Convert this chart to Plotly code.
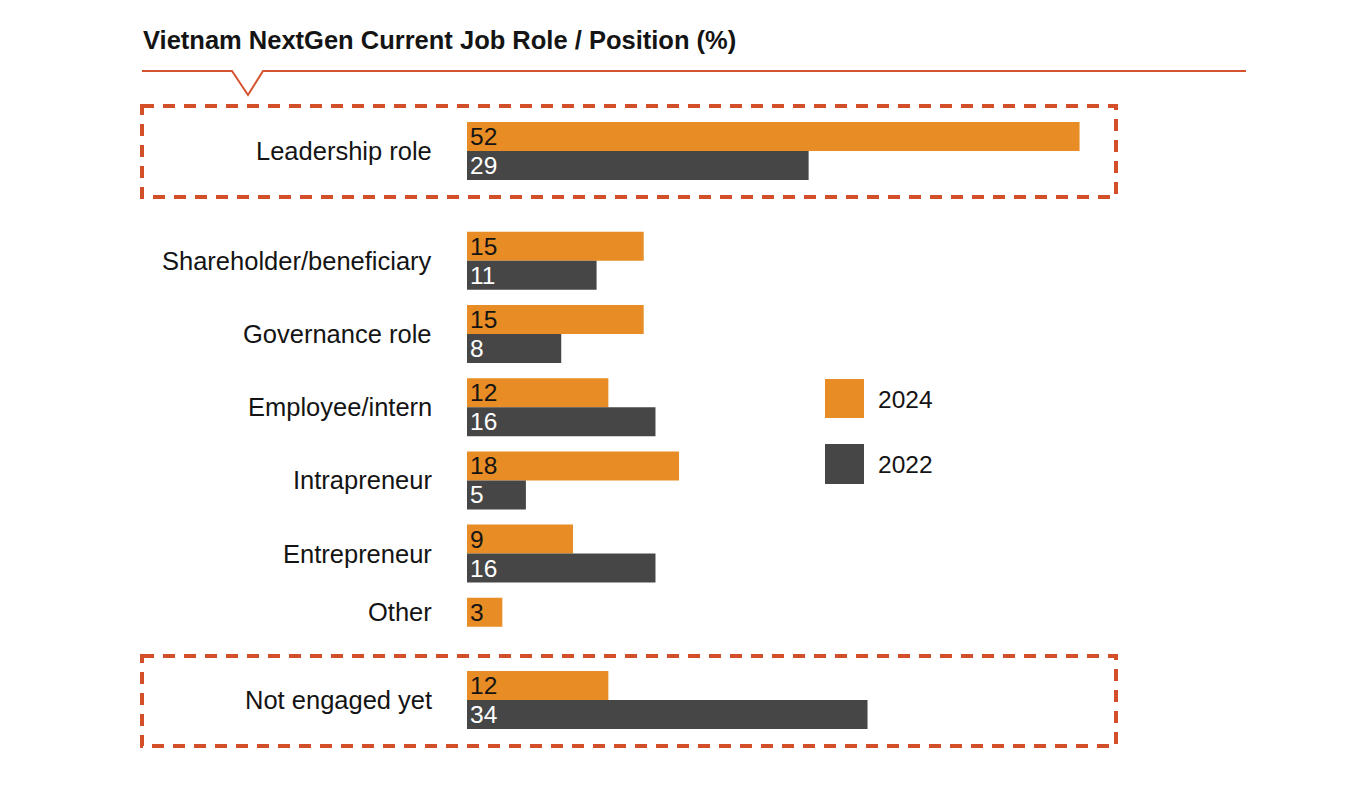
import plotly.graph_objects as go

# ---- data ----
categories = ["Leadership role", "Shareholder/beneficiary", "Governance role",
              "Employee/intern", "Intrapreneur", "Entrepreneur", "Other", "Not engaged yet"]
values_2024 = [52, 15, 15, 12, 18, 9, 3, 12]
values_2022 = [29, 11, 8, 16, 5, 16, None, 34]
series_names = ["2024", "2022"]
title_text = "Vietnam NextGen Current Job Role / Position (%)"

# ---- layout positions (slot units, not data) ----
slot_pos = [0, 1.5, 2.5, 3.5, 4.5, 5.5, 6.5, 7.5]
label_shift = [0, 0, 0, 0, 0, 0, -0.2, 0]

PAGE_OFF = 8            # body margin of the html page
W, H = 1366 - 2 * PAGE_OFF, 785 - 2 * PAGE_OFF
X0, SX = 467.0, 11.78   # page pixel of x=0, pixels per unit
Y0, SY = 151.0, 73.2    # page pixel of slot 0, pixels per slot


def dx(px):
    return (px - X0) / SX


def dy(py):
    return (py - Y0) / SY


ORANGE = "#E88C25"
DARK = "#464646"
RED = "#D24F2A"
TXT = "#141414"
FONT = "Liberation Sans, Arial, Helvetica, sans-serif"

fig = go.Figure()
fig.add_trace(go.Bar(
    name=series_names[0], y=slot_pos, x=values_2024, orientation="h",
    marker=dict(color=ORANGE, line=dict(width=0)),
    text=[str(v) for v in values_2024], textposition="inside",
    insidetextanchor="start", textangle=0,
    textfont=dict(color=TXT, size=24.5, family=FONT), hoverinfo="skip",
))
fig.add_trace(go.Bar(
    name=series_names[1], y=slot_pos, x=values_2022, orientation="h",
    marker=dict(color=DARK, line=dict(width=0)),
    text=["" if v is None else str(v) for v in values_2022], textposition="inside",
    insidetextanchor="start", textangle=0,
    textfont=dict(color="white", size=24.5, family=FONT), hoverinfo="skip",
))

annotations = []
for cat, p, s in zip(categories, slot_pos, label_shift):
    annotations.append(dict(x=dx(434), y=p + s, xref="x", yref="y", text=cat,
                            showarrow=False, xanchor="right", yanchor="middle",
                            font=dict(size=25.5, color=TXT, family=FONT)))

annotations.append(dict(x=dx(141), y=dy(40), xref="x", yref="y", text="<b>" + title_text + "</b>",
                        showarrow=False, xanchor="left", yanchor="middle",
                        font=dict(size=25.5, color=TXT, family=FONT)))

# legend
annotations.append(dict(x=dx(876), y=dy(399), xref="x", yref="y", text=series_names[0],
                        showarrow=False, xanchor="left", yanchor="middle",
                        font=dict(size=24.5, color=TXT, family=FONT)))
annotations.append(dict(x=dx(876), y=dy(464), xref="x", yref="y", text=series_names[1],
                        showarrow=False, xanchor="left", yanchor="middle",
                        font=dict(size=24.5, color=TXT, family=FONT)))

shapes = [
    dict(type="rect", xref="x", yref="y", x0=dx(825), x1=dx(864), y0=dy(379), y1=dy(418),
         fillcolor=ORANGE, line=dict(width=0)),
    dict(type="rect", xref="x", yref="y", x0=dx(825), x1=dx(864), y0=dy(444), y1=dy(484),
         fillcolor=DARK, line=dict(width=0)),
    dict(type="rect", xref="x", yref="y", x0=dx(142), x1=dx(1116), y0=dy(106), y1=dy(197),
         line=dict(color=RED, width=4, dash="12px,9px"), fillcolor="rgba(0,0,0,0)", layer="below"),
    dict(type="rect", xref="x", yref="y", x0=dx(142), x1=dx(1116), y0=dy(656), y1=dy(746),
         line=dict(color=RED, width=4, dash="12px,9px"), fillcolor="rgba(0,0,0,0)", layer="below"),
    dict(type="path", xref="x", yref="y",
         path=(f"M {dx(142)},{dy(71)} L {dx(232)},{dy(71)} L {dx(248)},{dy(95)} "
               f"L {dx(263)},{dy(71)} L {dx(1246)},{dy(71)}"),
         line=dict(color="#D5532F", width=2)),
]

fig.update_layout(
    width=W, height=H, margin=dict(l=0, r=0, t=0, b=0),
    paper_bgcolor="white", plot_bgcolor="white",
    barmode="group", bargap=1 - 2 * 29 / SY, bargroupgap=0,
    showlegend=False,
    uniformtext=dict(minsize=24, mode="show"),
    xaxis=dict(range=[dx(PAGE_OFF), dx(PAGE_OFF + W)], visible=False, fixedrange=True),
    yaxis=dict(range=[dy(PAGE_OFF + H), dy(PAGE_OFF)], visible=False, fixedrange=True),
    annotations=annotations, shapes=shapes,
    font=dict(family=FONT),
)

fig.write_html("out.html")
